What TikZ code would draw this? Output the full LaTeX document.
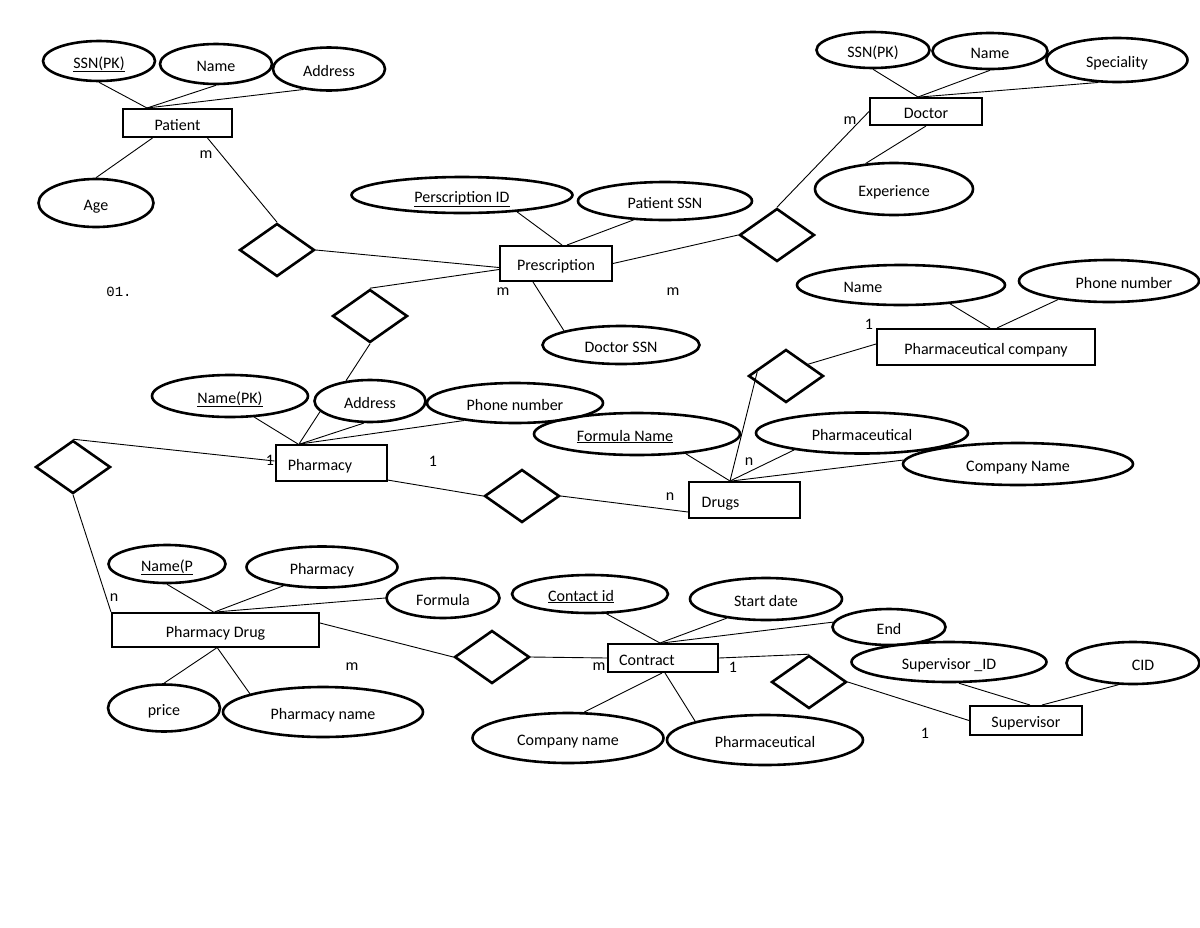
\documentclass[tikz,border=0pt]{standalone}
\usepackage{fontspec}
\setmainfont{Carlito}
\newfontfamily\monofnt{Liberation Mono}
\usetikzlibrary{shapes.geometric}
\begin{document}
\begin{tikzpicture}[x=1pt,y=-1pt,
  every node/.style={font=\fontsize{16}{19}\selectfont},
  attr/.style={ellipse,draw,line width=2.6pt,inner sep=0pt,text height=14pt,text depth=0pt},
  ent/.style={rectangle,draw,line width=2pt,inner sep=0pt,text height=14pt,text depth=0pt},
  rel/.style={diamond,draw,line width=2.6pt,inner sep=0pt,minimum width=75pt,minimum height=53pt},
  lnk/.style={line width=0.9pt},
  card/.style={inner sep=0pt}]
\useasboundingbox (0,0) rectangle (1200,927);

% Patient
\node[ent,minimum width=109pt,minimum height=28pt] (pat) at (177.5,123) {Patient};
\node[attr,minimum width=112pt,minimum height=40pt] (pssnk) at (99,61) {\underline{SSN(PK)}};
\node[attr,minimum width=112pt,minimum height=40pt] (pnam) at (216,64) {Name};
\node[attr,minimum width=112pt,minimum height=43pt] (padr) at (329,69) {Address};
\node[attr,minimum width=115pt,minimum height=48pt] (page) at (96,203) {Age};
\node[rel] (d1) at (277,250) {};

% Prescription
\node[ent,minimum width=112pt,minimum height=35pt] (presc) at (556,263.5) {Prescription};
\node[attr,minimum width=221pt,minimum height=36pt] (pid) at (462,195) {\underline{Perscription ID}};
\node[attr,minimum width=174pt,minimum height=38pt] (rpssn) at (665,201) {Patient SSN};
\node[attr,minimum width=157pt,minimum height=38pt] (rdssn) at (621,345) {Doctor SSN};
\node[rel] (d2) at (370,316) {};
\node[rel] (d3) at (777,235) {};

% Doctor
\node[ent,minimum width=112pt,minimum height=27pt] (doc) at (926,111.5) {Doctor};
\node[attr,minimum width=113pt,minimum height=36pt] (dssn) at (873,50) {SSN(PK)};
\node[attr,minimum width=115pt,minimum height=36pt] (dnam) at (990,51) {Name};
\node[attr,minimum width=141pt,minimum height=44pt] (dspec) at (1117,60) {Speciality};
\node[attr,minimum width=158pt,minimum height=52pt] (dexp) at (894,189) {Experience};

% Pharmaceutical company
\node[ent,minimum width=218pt,minimum height=36pt] (pc) at (986,347) {Pharmaceutical company};
\node[attr,minimum width=208pt,minimum height=40pt] (pcn) at (901,285) {Name\hspace*{76pt}};
\node[attr,minimum width=180pt,minimum height=42pt] (pcp) at (1109,281) {\hspace*{30pt}Phone number};
\node[rel] (d4) at (786,376) {};

% Drugs
\node[ent,minimum width=111pt,minimum height=36pt] (drug) at (744.5,500) {Drugs\hspace*{48pt}};
\node[attr,minimum width=206pt,minimum height=42pt] (fn) at (637,434) {\underline{Formula Name}\hspace*{24pt}};
\node[attr,minimum width=212pt,minimum height=41pt] (dph) at (862,433) {Pharmaceutical};
\node[attr,minimum width=230pt,minimum height=42pt] (dcn) at (1018,464) {Company Name};

% Pharmacy
\node[ent,minimum width=111pt,minimum height=36pt] (phar) at (331,463) {Pharmacy\hspace*{22pt}};
\node[attr,minimum width=156pt,minimum height=42pt] (npk) at (230,396) {\underline{Name(PK)}};
\node[attr,minimum width=111pt,minimum height=42pt] (phad) at (370,401) {Address};
\node[attr,minimum width=176pt,minimum height=40pt] (phph) at (515,403) {Phone number};
\node[rel] (d5) at (73,467) {};
\node[rel] (d6) at (522,496) {};

% Pharmacy Drug
\node[ent,minimum width=207pt,minimum height=34pt] (pd) at (215.5,630) {Pharmacy Drug};
\node[attr,minimum width=117pt,minimum height=38pt] (pdn) at (167,564) {\underline{Name(P}};
\node[attr,minimum width=151pt,minimum height=41pt] (pdp) at (322,567) {Pharmacy};
\node[attr,minimum width=113pt,minimum height=40pt] (pdf) at (443,598) {Formula};
\node[attr,minimum width=112pt,minimum height=47pt] (pdpr) at (164,708) {price};
\node[attr,minimum width=200pt,minimum height=50pt] (pdpn) at (323,712) {Pharmacy name};
\node[rel] (d7) at (492,657) {};

% Contract
\node[ent,minimum width=110pt,minimum height=28pt] (con) at (663,658) {Contract\hspace*{32pt}};
\node[attr,minimum width=156pt,minimum height=38pt] (cid) at (590,594) {\underline{Contact id}\hspace*{18pt}};
\node[attr,minimum width=152pt,minimum height=42pt] (csd) at (766,599) {Start date};
\node[attr,minimum width=113pt,minimum height=36pt] (cend) at (889,627) {End};
\node[attr,minimum width=191pt,minimum height=50pt] (ccn) at (568,738) {Company name};
\node[attr,minimum width=196pt,minimum height=50pt] (cph) at (765,740) {Pharmaceutical};
\node[rel] (d8) at (809,682) {};

% Supervisor
\node[ent,minimum width=112pt,minimum height=29pt] (sup) at (1026,720.5) {Supervisor};
\node[attr,minimum width=195pt,minimum height=40pt] (sid) at (949,662) {Supervisor \_ID};
\node[attr,minimum width=133pt,minimum height=42pt] (scid) at (1133,663) {\hspace*{20pt}CID};

% Connectors: Patient
\draw[lnk] (pssnk.south) -- ([xshift=-30.5pt]pat.north);
\draw[lnk] (pnam.south) -- ([xshift=-30.5pt]pat.north);
\draw[lnk] (padr.-141) -- ([xshift=-30.5pt]pat.north);
\draw[lnk] (page.north) -- ([xshift=-25pt]pat.south);
\draw[lnk] ([xshift=30pt]pat.south) -- (d1.north);
\draw[lnk] (d1.east) -- ([yshift=-4pt]presc.west);

% Prescription
\draw[lnk] ([yshift=-6pt]presc.west) -- (d2.north);
\draw[lnk] (d2.south) -- (phad.140);
\draw[lnk] (pid.-17) -- ([xshift=6pt]presc.north);
\draw[lnk] (rpssn.-149) -- ([xshift=11pt]presc.north);
\draw[lnk] ([xshift=-23pt]presc.south) -- (rdssn.166);
\draw[lnk] (presc.east) -- (d3.west);
\draw[lnk] (d3.north) -- (doc.west);

% Doctor
\draw[lnk] (dssn.south) -- ([xshift=-8pt]doc.north);
\draw[lnk] (dnam.south) -- ([xshift=-8pt]doc.north);
\draw[lnk] (dspec.-130) -- ([xshift=-6pt]doc.north);
\draw[lnk] (dexp.138) -- (doc.south);

% Pharmaceutical company
\draw[lnk] (pcn.-21) -- ([xshift=4pt]pc.north);
\draw[lnk] (pcp.-160) -- ([xshift=11pt]pc.north);
\draw[lnk] ([yshift=3pt]pc.west) -- (d4.28);
\draw[lnk] ([xshift=10pt,yshift=4pt]d4.west) -- ([xshift=-14.5pt]drug.north);

% Drugs
\draw[lnk] (fn.-22) -- ([xshift=-14.5pt]drug.north);
\draw[lnk] (dph.-166) -- ([xshift=-14.5pt]drug.north);
\draw[lnk] (dcn.178) -- ([xshift=-13pt]drug.north);
\draw[lnk] (d6.east) -- ([yshift=-12pt]drug.west);

% Pharmacy
\draw[lnk] (npk.-41) -- ([xshift=-33pt]phar.north);
\draw[lnk] (phad.-168) -- ([xshift=-32pt]phar.north);
\draw[lnk] (phad.-106) -- ([xshift=-31pt]phar.north);
\draw[lnk] (phph.-161) -- ([xshift=-31pt]phar.north);
\draw[lnk] ([yshift=2pt]phar.south east) -- (d6.west);
\draw[lnk] (d5.north) -- ([yshift=2pt]phar.west);
\draw[lnk] (d5.south) -- (pd.north west);

% Pharmacy Drug
\draw[lnk] (pdn.south) -- ([xshift=-2pt]pd.north);
\draw[lnk] (pdp.-154) -- ([xshift=-1pt]pd.north);
\draw[lnk] (pdf.west) -- ([xshift=0pt]pd.north);
\draw[lnk] (pdpr.north) -- ([xshift=1pt]pd.south);
\draw[lnk] (pdpn.166) -- ([xshift=2pt]pd.south);
\draw[lnk] ([yshift=7pt]pd.east) -- (d7.west);

% Contract
\draw[lnk] (cid.-50) -- ([xshift=-3pt]con.north);
\draw[lnk] (csd.-154) -- ([xshift=-3pt]con.north);
\draw[lnk] (cend.175) -- ([xshift=-1pt]con.north);
\draw[lnk] (ccn.58) -- ([xshift=-1pt]con.south);
\draw[lnk] (cph.165) -- ([xshift=2pt]con.south);
\draw[lnk] (d7.east) -- (con.west);
\draw[lnk] (con.east) -- (d8.north);
\draw[lnk] (d8.east) -- (sup.west);

% Supervisor
\draw[lnk] (sid.-65) -- ([xshift=4pt]sup.north);
\draw[lnk] (scid.-124) -- ([xshift=16pt]sup.north);

% Cardinalities
\node[card] (c1) at (206,155) {m};
\node[card] (c2) at (503,292) {m};
\node[card] (c3) at (673,292) {m};
\node[card] (c4) at (850,121) {m};
\node[card] (c5) at (869,324) {1};
\node[card] (c6) at (270,460) {1};
\node[card] (c7) at (433,461) {1};
\node[card] (c8) at (670,497) {n};
\node[card] (c9) at (749,462) {n};
\node[card] (c10) at (114,598) {n};
\node[card] (c11) at (352,667) {m};
\node[card] (c12) at (599,667) {m};
\node[card] (c13) at (733,667) {1};
\node[card] (c14) at (925,733) {1};
\node[card,font=\monofnt\fontsize{14}{16}\selectfont] (lbl) at (119,292) {01.};
\end{tikzpicture}
\end{document}
